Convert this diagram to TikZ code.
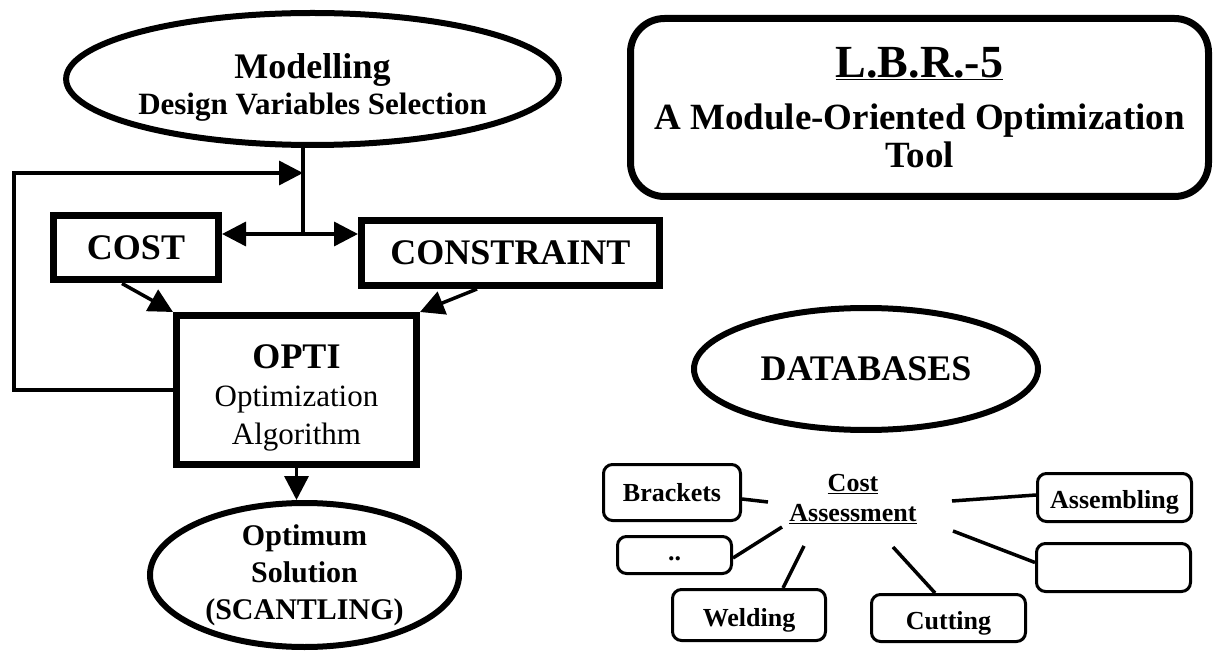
\documentclass[tikz,border=0pt]{standalone}
\usepackage{fontspec}
\setmainfont{Liberation Serif}
\usetikzlibrary{arrows.meta,shapes.geometric,calc}
\begin{document}
\begin{tikzpicture}[x=1pt,y=-1pt,
 thickbox/.style={draw,line width=7pt,fill=white,inner sep=0pt,align=center},
 thickell/.style={ellipse,draw,line width=6pt,fill=white,inner sep=0pt,align=center},
 smallbox/.style={draw,line width=3pt,rounded corners=9pt,inner sep=0pt,align=center,font=\fontsize{26}{30}\selectfont\bfseries},
 lowtext/.style={text height=28pt,text depth=6pt},
 conn/.style={line width=3.5pt},
 arr/.style={conn,-{Triangle[length=24pt,width=24pt]}},
 spoke/.style={line width=3.5pt},
 plain/.style={inner sep=0pt,align=center}
]
\useasboundingbox (0,0) rectangle (1213,652);

% left flow chart
\node[thickell, minimum width=463pt, minimum height=132pt, font=\bfseries\fontsize{31}{36}\selectfont] (model) at (312.5,79)
 {\rule{0pt}{41pt}{\fontsize{36}{36}\selectfont Modelling}\\Design Variables Selection};
\node[thickbox, minimum width=165pt, minimum height=64pt, font=\fontsize{36}{40}\selectfont\bfseries] (cost) at (136,248) {\raisebox{-3pt}{COST}};
\node[thickbox, minimum width=298pt, minimum height=65pt, font=\fontsize{36}{40}\selectfont\bfseries] (constraint) at (510.5,253) {\raisebox{-2pt}{CONSTRAINT}};
\node[thickbox, minimum width=240pt, minimum height=149pt, font=\fontsize{31}{38}\selectfont] (opti) at (296.5,390)
 {\rule{0pt}{39pt}{\bfseries\fontsize{36}{38}\selectfont OPTI}\\Optimization\\Algorithm};
\node[thickell, minimum width=309pt, minimum height=144pt, font=\bfseries\fontsize{30}{37}\selectfont] (opt) at (304.5,575)
 {Optimum\\Solution\\(SCANTLING)};

\coordinate (j) at (303,234);
\coordinate (lt) at (14,173);
\draw[conn] (model.south -| j) -- (j);
\draw[arr] (j) -- (cost.east |- j);
\draw[arr] (j) -- (constraint.west |- j);
\draw[arr] (opti.west) -| (lt) -- (lt -| j);
\draw[arr] ($(cost.south)+(-14,0)$) -- (opti.north west);
\draw[arr] ($(constraint.south)+(-33.5,0)$) -- (opti.north east);
\draw[arr] (opti.south) -- (opti.south |- opt.north);

% title box
\node[draw, line width=7pt, rounded corners=34pt, minimum width=578pt, minimum height=178pt, plain, font=\bfseries\fontsize{37}{38}\selectfont] (lbr) at (919.5,107.5)
 {{\fontsize{46}{50}\selectfont\underline{L.B.R.-5}}\\[14pt]A Module-Oriented Optimization\\Tool};

% databases
\node[thickell, minimum width=344pt, minimum height=122pt, font=\fontsize{36}{40}\selectfont\bfseries] (db) at (866,369) {DATABASES};

\node[plain, font=\fontsize{26}{30}\selectfont\bfseries] (ca) at (853,499) {\underline{Cost}\\\underline{Assessment}};

\node[smallbox, minimum width=137pt, minimum height=56pt] (brackets) at (672,492.5) {Brackets};
\node[smallbox, minimum width=114pt, minimum height=37pt] (dots) at (674.5,555) {..\vphantom{Ag}};
\node[smallbox, lowtext, minimum width=153pt, minimum height=51pt] (welding) at (749,615) {Welding};
\node[smallbox, lowtext, minimum width=154pt, minimum height=47pt] (cutting) at (948.5,618) {Cutting};
\node[smallbox, lowtext, minimum width=154pt, minimum height=48pt] (assembling) at (1114.5,497.5) {Assembling};
\node[smallbox, minimum width=154pt, minimum height=48pt] (empty) at (1113.5,567.5) {};

\coordinate (s1) at (768,502);
\coordinate (s2) at (782,527);
\coordinate (s3) at (804,546);
\coordinate (s4) at (893,547);
\coordinate (s5) at (952,501);
\coordinate (s6) at (953,531);
\draw[spoke] ($(brackets.east)+(0,6.5)$) -- (s1);
\draw[spoke] ($(dots.east)+(0,3)$) -- (s2);
\draw[spoke] ($(welding.north)+(34,0)$) -- (s3);
\draw[spoke] ($(cutting.north)+(-13.5,0)$) -- (s4);
\draw[spoke] ($(assembling.west)+(0,-2.5)$) -- (s5);
\draw[spoke] ($(empty.west)+(0,-5)$) -- (s6);
\end{tikzpicture}
\end{document}
